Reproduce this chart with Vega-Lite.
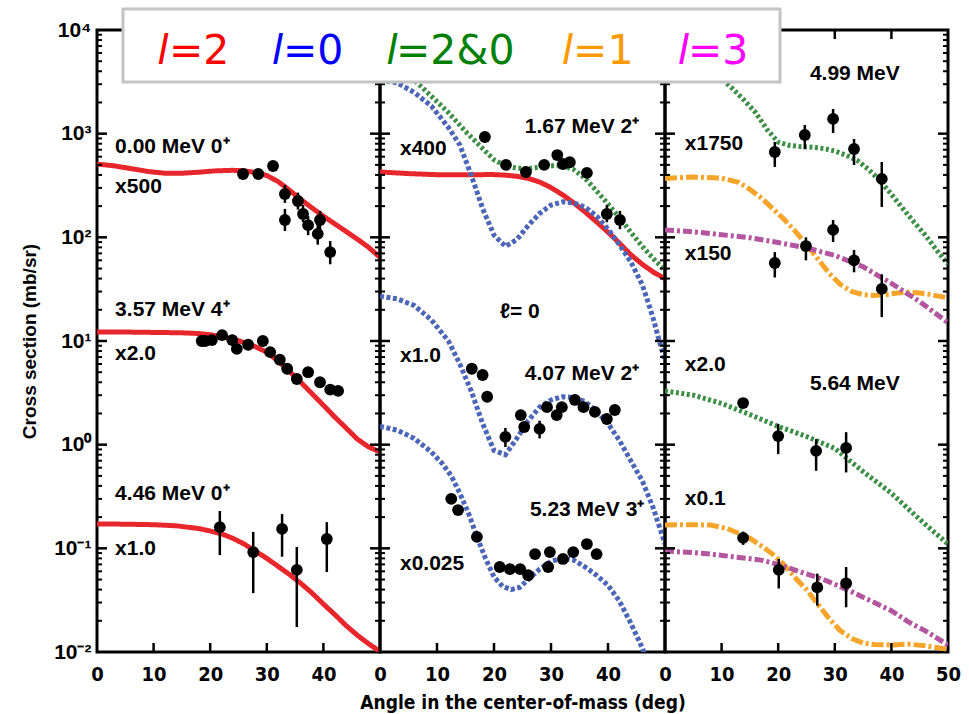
{
  "$schema": "https://vega.github.io/schema/vega-lite/v6.json",
  "background": "white",
  "padding": {"left": 19, "top": 5, "right": 5, "bottom": 0},
  "spacing": 0,
  "bounds": "flush",
  "config": {
    "view": {"stroke": "black", "strokeWidth": 3},
    "axis": {"domain": false, "grid": false, "ticks": false, "labelColor": "black", "titleColor": "black", "labelOverlap": false, "labelFlush": false},
    "concat": {"spacing": 0}
  },
  "datasets": {
    "ymaj": [{"v":0.1},{"v":1},{"v":10},{"v":100},{"v":1000}],
    "ymin": [{"v":0.02},{"v":0.03},{"v":0.04},{"v":0.05},{"v":0.06},{"v":0.07},{"v":0.08},{"v":0.09},{"v":0.2},{"v":0.3},{"v":0.4},{"v":0.5},{"v":0.6},{"v":0.7},{"v":0.8},{"v":0.9},{"v":2},{"v":3},{"v":4},{"v":5},{"v":6},{"v":7},{"v":8},{"v":9},{"v":20},{"v":30},{"v":40},{"v":50},{"v":60},{"v":70},{"v":80},{"v":90},{"v":200},{"v":300},{"v":400},{"v":500},{"v":600},{"v":700},{"v":800},{"v":900},{"v":2000},{"v":3000},{"v":4000},{"v":5000},{"v":6000},{"v":7000},{"v":8000},{"v":9000}],
    "xt": [{"v":10},{"v":20},{"v":30},{"v":40}],
    "lgbox": [{"x1": -95.76, "x2": 20.32, "y1": 15947, "y2": 3151}],
    "lg": [
      {"model":"l=2","lx":-88.69,"tx":-87.63,"y":4699,"label":"=2"},
      {"model":"l=0","lx":-68.46,"tx":-67.49,"y":4699,"label":"=0"},
      {"model":"l=2&0","lx":-48.23,"tx":-47.53,"y":4699,"label":"=2&0"},
      {"model":"l=1","lx":-17.23,"tx":-16.25,"y":4699,"label":"=1"},
      {"model":"l=3","lx":3.27,"tx":4.06,"y":4699,"label":"=3"}
    ],
    "p1c": [
      {"set":"a","model":"l=2","angle":0,"value":509},{"set":"a","model":"l=2","angle":3,"value":490},{"set":"a","model":"l=2","angle":6,"value":460},{"set":"a","model":"l=2","angle":9,"value":432},{"set":"a","model":"l=2","angle":12,"value":415},{"set":"a","model":"l=2","angle":15,"value":415},{"set":"a","model":"l=2","angle":18,"value":425},{"set":"a","model":"l=2","angle":21,"value":438},{"set":"a","model":"l=2","angle":24,"value":443},{"set":"a","model":"l=2","angle":26,"value":438},{"set":"a","model":"l=2","angle":28,"value":422},{"set":"a","model":"l=2","angle":30,"value":395},{"set":"a","model":"l=2","angle":32,"value":345},{"set":"a","model":"l=2","angle":34,"value":285},{"set":"a","model":"l=2","angle":36,"value":232},{"set":"a","model":"l=2","angle":38,"value":192},{"set":"a","model":"l=2","angle":40,"value":160},{"set":"a","model":"l=2","angle":42,"value":135},{"set":"a","model":"l=2","angle":44,"value":114},{"set":"a","model":"l=2","angle":46,"value":96},{"set":"a","model":"l=2","angle":48,"value":80},{"set":"a","model":"l=2","angle":50,"value":64},
      {"set":"b","model":"l=2","angle":0,"value":12.2},{"set":"b","model":"l=2","angle":5,"value":12.2},{"set":"b","model":"l=2","angle":10,"value":12.1},{"set":"b","model":"l=2","angle":15,"value":12.0},{"set":"b","model":"l=2","angle":18,"value":11.8},{"set":"b","model":"l=2","angle":20,"value":11.5},{"set":"b","model":"l=2","angle":22,"value":11.0},{"set":"b","model":"l=2","angle":24,"value":10.4},{"set":"b","model":"l=2","angle":26,"value":9.7},{"set":"b","model":"l=2","angle":28,"value":8.8},{"set":"b","model":"l=2","angle":30,"value":7.8},{"set":"b","model":"l=2","angle":32,"value":6.4},{"set":"b","model":"l=2","angle":34,"value":5.1},{"set":"b","model":"l=2","angle":36,"value":4.0},{"set":"b","model":"l=2","angle":38,"value":3.1},{"set":"b","model":"l=2","angle":40,"value":2.4},{"set":"b","model":"l=2","angle":42,"value":1.85},{"set":"b","model":"l=2","angle":44,"value":1.45},{"set":"b","model":"l=2","angle":46,"value":1.13},{"set":"b","model":"l=2","angle":48,"value":0.95},{"set":"b","model":"l=2","angle":50,"value":0.85},
      {"set":"c","model":"l=2","angle":0,"value":0.172},{"set":"c","model":"l=2","angle":5,"value":0.171},{"set":"c","model":"l=2","angle":10,"value":0.169},{"set":"c","model":"l=2","angle":14,"value":0.165},{"set":"c","model":"l=2","angle":18,"value":0.155},{"set":"c","model":"l=2","angle":20,"value":0.147},{"set":"c","model":"l=2","angle":22,"value":0.138},{"set":"c","model":"l=2","angle":24,"value":0.125},{"set":"c","model":"l=2","angle":26,"value":0.11},{"set":"c","model":"l=2","angle":28,"value":0.094},{"set":"c","model":"l=2","angle":30,"value":0.08},{"set":"c","model":"l=2","angle":32,"value":0.067},{"set":"c","model":"l=2","angle":34,"value":0.056},{"set":"c","model":"l=2","angle":36,"value":0.046},{"set":"c","model":"l=2","angle":38,"value":0.037},{"set":"c","model":"l=2","angle":40,"value":0.029},{"set":"c","model":"l=2","angle":42,"value":0.023},{"set":"c","model":"l=2","angle":44,"value":0.018},{"set":"c","model":"l=2","angle":46,"value":0.0145},{"set":"c","model":"l=2","angle":48,"value":0.012},{"set":"c","model":"l=2","angle":50,"value":0.0101}
    ],
    "p1p": [
      {"angle":25.8,"value":408},{"angle":28.5,"value":408},{"angle":31.1,"value":488},{"angle":33.2,"value":262,"lo":215,"hi":320},{"angle":33.2,"value":147,"lo":115,"hi":188},{"angle":35.5,"value":224,"lo":185,"hi":270},{"angle":36.4,"value":168,"lo":140,"hi":205},{"angle":37.3,"value":131,"lo":105,"hi":160},{"angle":39.4,"value":147,"lo":118,"hi":180},{"angle":39.0,"value":108,"lo":85,"hi":135},{"angle":41.2,"value":72,"lo":55,"hi":92},
      {"angle":18.5,"value":10.0},{"angle":19.1,"value":10.0},{"angle":20.3,"value":10.2},{"angle":22.1,"value":11.4},{"angle":23.9,"value":10.2},{"angle":24.7,"value":8.4},{"angle":26.7,"value":9.2},{"angle":29.3,"value":10.0},{"angle":30.6,"value":7.8},{"angle":32.3,"value":6.6},{"angle":33.6,"value":5.4},{"angle":35.3,"value":4.3},{"angle":37.3,"value":5.0},{"angle":39.4,"value":4.0},{"angle":41.2,"value":3.4},{"angle":42.6,"value":3.3},
      {"angle":21.7,"value":0.16,"lo":0.086,"hi":0.229},{"angle":27.6,"value":0.092,"lo":0.037,"hi":0.144},{"angle":32.7,"value":0.154,"lo":0.083,"hi":0.214},{"angle":35.3,"value":0.062,"lo":0.0174,"hi":0.103},{"angle":40.6,"value":0.123,"lo":0.059,"hi":0.179}
    ],
    "p1t": [
      {"angle":3.2,"value":743,"text":"0.00 MeV 0⁺"},{"angle":3.2,"value":306,"text":"x500"},{"angle":3.2,"value":19.9,"text":"3.57 MeV 4⁺"},{"angle":3.2,"value":7.5,"text":"x2.0"},{"angle":3.2,"value":0.334,"text":"4.46 MeV 0⁺"},{"angle":3.2,"value":0.099,"text":"x1.0"}
    ],
    "p2c": [
      {"set":"a","model":"l=2","angle":0,"value":427},{"set":"a","model":"l=2","angle":5,"value":412},{"set":"a","model":"l=2","angle":10,"value":402},{"set":"a","model":"l=2","angle":15,"value":402},{"set":"a","model":"l=2","angle":20,"value":403},{"set":"a","model":"l=2","angle":22,"value":398},{"set":"a","model":"l=2","angle":24,"value":388},{"set":"a","model":"l=2","angle":26,"value":370},{"set":"a","model":"l=2","angle":28,"value":342},{"set":"a","model":"l=2","angle":30,"value":302},{"set":"a","model":"l=2","angle":32,"value":258},{"set":"a","model":"l=2","angle":34,"value":215},{"set":"a","model":"l=2","angle":36,"value":175},{"set":"a","model":"l=2","angle":38,"value":141},{"set":"a","model":"l=2","angle":40,"value":112},{"set":"a","model":"l=2","angle":42,"value":88},{"set":"a","model":"l=2","angle":44,"value":68},{"set":"a","model":"l=2","angle":46,"value":55},{"set":"a","model":"l=2","angle":48,"value":46},{"set":"a","model":"l=2","angle":50,"value":40},
      {"set":"a","model":"l=0","angle":0,"value":3300},{"set":"a","model":"l=0","angle":3,"value":3100},{"set":"a","model":"l=0","angle":6,"value":2500},{"set":"a","model":"l=0","angle":9,"value":1850},{"set":"a","model":"l=0","angle":12,"value":1150},{"set":"a","model":"l=0","angle":14,"value":780},{"set":"a","model":"l=0","angle":16,"value":400},{"set":"a","model":"l=0","angle":18,"value":190},{"set":"a","model":"l=0","angle":20,"value":105},{"set":"a","model":"l=0","angle":22,"value":82},{"set":"a","model":"l=0","angle":24,"value":95},{"set":"a","model":"l=0","angle":26,"value":130},{"set":"a","model":"l=0","angle":28,"value":170},{"set":"a","model":"l=0","angle":30,"value":205},{"set":"a","model":"l=0","angle":32,"value":220},{"set":"a","model":"l=0","angle":34,"value":215},{"set":"a","model":"l=0","angle":36,"value":195},{"set":"a","model":"l=0","angle":38,"value":160},{"set":"a","model":"l=0","angle":40,"value":120},{"set":"a","model":"l=0","angle":42,"value":85},{"set":"a","model":"l=0","angle":44,"value":58},{"set":"a","model":"l=0","angle":46,"value":35},{"set":"a","model":"l=0","angle":47,"value":24},{"set":"a","model":"l=0","angle":48,"value":16},{"set":"a","model":"l=0","angle":49,"value":10},{"set":"a","model":"l=0","angle":50,"value":6.5},
      {"set":"a","model":"l=2&0","angle":0,"value":4500},{"set":"a","model":"l=2&0","angle":3,"value":4000},{"set":"a","model":"l=2&0","angle":6,"value":3300},{"set":"a","model":"l=2&0","angle":9,"value":2300},{"set":"a","model":"l=2&0","angle":12,"value":1600},{"set":"a","model":"l=2&0","angle":15,"value":1050},{"set":"a","model":"l=2&0","angle":18,"value":720},{"set":"a","model":"l=2&0","angle":20,"value":560},{"set":"a","model":"l=2&0","angle":22,"value":490},{"set":"a","model":"l=2&0","angle":24,"value":465},{"set":"a","model":"l=2&0","angle":26,"value":460},{"set":"a","model":"l=2&0","angle":28,"value":475},{"set":"a","model":"l=2&0","angle":30,"value":490},{"set":"a","model":"l=2&0","angle":32,"value":490},{"set":"a","model":"l=2&0","angle":34,"value":450},{"set":"a","model":"l=2&0","angle":36,"value":370},{"set":"a","model":"l=2&0","angle":38,"value":280},{"set":"a","model":"l=2&0","angle":40,"value":210},{"set":"a","model":"l=2&0","angle":42,"value":155},{"set":"a","model":"l=2&0","angle":44,"value":112},{"set":"a","model":"l=2&0","angle":46,"value":82},{"set":"a","model":"l=2&0","angle":48,"value":62},{"set":"a","model":"l=2&0","angle":50,"value":48},
      {"set":"b","model":"l=0","angle":0,"value":27},{"set":"b","model":"l=0","angle":3,"value":25.5},{"set":"b","model":"l=0","angle":6,"value":22},{"set":"b","model":"l=0","angle":9,"value":16},{"set":"b","model":"l=0","angle":12,"value":10},{"set":"b","model":"l=0","angle":14,"value":6},{"set":"b","model":"l=0","angle":16,"value":3.3},{"set":"b","model":"l=0","angle":18,"value":1.6},{"set":"b","model":"l=0","angle":20,"value":0.88},{"set":"b","model":"l=0","angle":22,"value":0.8},{"set":"b","model":"l=0","angle":24,"value":1.15},{"set":"b","model":"l=0","angle":26,"value":1.7},{"set":"b","model":"l=0","angle":28,"value":2.3},{"set":"b","model":"l=0","angle":30,"value":2.7},{"set":"b","model":"l=0","angle":32,"value":2.9},{"set":"b","model":"l=0","angle":34,"value":2.85},{"set":"b","model":"l=0","angle":36,"value":2.6},{"set":"b","model":"l=0","angle":38,"value":2.1},{"set":"b","model":"l=0","angle":40,"value":1.6},{"set":"b","model":"l=0","angle":42,"value":1.1},{"set":"b","model":"l=0","angle":44,"value":0.7},{"set":"b","model":"l=0","angle":46,"value":0.45},{"set":"b","model":"l=0","angle":48,"value":0.24},{"set":"b","model":"l=0","angle":50,"value":0.11},
      {"set":"c","model":"l=0","angle":0,"value":1.5},{"set":"c","model":"l=0","angle":3,"value":1.38},{"set":"c","model":"l=0","angle":6,"value":1.15},{"set":"c","model":"l=0","angle":9,"value":0.85},{"set":"c","model":"l=0","angle":11,"value":0.65},{"set":"c","model":"l=0","angle":12.5,"value":0.5},{"set":"c","model":"l=0","angle":14,"value":0.34},{"set":"c","model":"l=0","angle":15.5,"value":0.22},{"set":"c","model":"l=0","angle":17,"value":0.13},{"set":"c","model":"l=0","angle":18.5,"value":0.08},{"set":"c","model":"l=0","angle":20,"value":0.053},{"set":"c","model":"l=0","angle":21.5,"value":0.043},{"set":"c","model":"l=0","angle":23,"value":0.04},{"set":"c","model":"l=0","angle":24.5,"value":0.042},{"set":"c","model":"l=0","angle":26,"value":0.05},{"set":"c","model":"l=0","angle":28,"value":0.063},{"set":"c","model":"l=0","angle":30,"value":0.075},{"set":"c","model":"l=0","angle":32,"value":0.08},{"set":"c","model":"l=0","angle":34,"value":0.077},{"set":"c","model":"l=0","angle":36,"value":0.066},{"set":"c","model":"l=0","angle":38,"value":0.055},{"set":"c","model":"l=0","angle":40,"value":0.044},{"set":"c","model":"l=0","angle":42,"value":0.031},{"set":"c","model":"l=0","angle":44,"value":0.019},{"set":"c","model":"l=0","angle":46,"value":0.011},{"set":"c","model":"l=0","angle":48,"value":0.0055}
    ],
    "p2p": [
      {"angle":18.4,"value":929},{"angle":22.1,"value":500},{"angle":25.6,"value":427},{"angle":28.8,"value":500},{"angle":31.1,"value":622},{"angle":32.1,"value":510},{"angle":33.3,"value":530},{"angle":36.3,"value":418},{"angle":39.8,"value":168,"lo":140,"hi":205},{"angle":42.1,"value":147,"lo":120,"hi":180},
      {"angle":16.1,"value":5.4},{"angle":18.0,"value":4.7},{"angle":18.8,"value":2.9},{"angle":22.0,"value":1.19,"lo":0.95,"hi":1.45},{"angle":24.7,"value":1.93},{"angle":25.3,"value":1.48},{"angle":28.0,"value":1.42,"lo":1.15,"hi":1.7},{"angle":29.3,"value":2.3},{"angle":31.0,"value":1.93},{"angle":31.9,"value":2.3},{"angle":34.2,"value":2.7},{"angle":35.7,"value":2.3},{"angle":37.7,"value":2.07},{"angle":39.8,"value":1.77},{"angle":41.2,"value":2.16},
      {"angle":12.5,"value":0.3},{"angle":13.7,"value":0.234},{"angle":17.0,"value":0.129},{"angle":21.0,"value":0.066},{"angle":22.8,"value":0.063},{"angle":24.6,"value":0.063},{"angle":26.0,"value":0.055},{"angle":27.2,"value":0.088},{"angle":29.5,"value":0.066},{"angle":29.8,"value":0.092},{"angle":32.1,"value":0.079},{"angle":33.9,"value":0.092},{"angle":36.3,"value":0.11},{"angle":38.0,"value":0.088}
    ],
    "p2t": [
      {"angle":25.4,"value":1160,"text":"1.67 MeV 2⁺"},{"angle":3.5,"value":711,"text":"x400"},{"angle":21,"value":19,"text":"ℓ= 0"},{"angle":3.5,"value":7.2,"text":"x1.0"},{"angle":25.4,"value":4.8,"text":"4.07 MeV 2⁺"},{"angle":26.3,"value":0.234,"text":"5.23 MeV 3⁺"},{"angle":3.5,"value":0.071,"text":"x0.025"}
    ],
    "p3c": [
      {"set":"a","model":"l=2&0","angle":0,"value":6500},{"set":"a","model":"l=2&0","angle":4,"value":5500},{"set":"a","model":"l=2&0","angle":8,"value":4200},{"set":"a","model":"l=2&0","angle":10,"value":3400},{"set":"a","model":"l=2&0","angle":12,"value":2700},{"set":"a","model":"l=2&0","angle":14,"value":2100},{"set":"a","model":"l=2&0","angle":16,"value":1600},{"set":"a","model":"l=2&0","angle":18,"value":1100},{"set":"a","model":"l=2&0","angle":20,"value":830},{"set":"a","model":"l=2&0","angle":22,"value":770},{"set":"a","model":"l=2&0","angle":24,"value":750},{"set":"a","model":"l=2&0","angle":26,"value":740},{"set":"a","model":"l=2&0","angle":28,"value":720},{"set":"a","model":"l=2&0","angle":30,"value":680},{"set":"a","model":"l=2&0","angle":32,"value":620},{"set":"a","model":"l=2&0","angle":34,"value":550},{"set":"a","model":"l=2&0","angle":36,"value":450},{"set":"a","model":"l=2&0","angle":38,"value":350},{"set":"a","model":"l=2&0","angle":40,"value":260},{"set":"a","model":"l=2&0","angle":42,"value":190},{"set":"a","model":"l=2&0","angle":44,"value":140},{"set":"a","model":"l=2&0","angle":46,"value":105},{"set":"a","model":"l=2&0","angle":48,"value":75},{"set":"a","model":"l=2&0","angle":50,"value":55},
      {"set":"b","model":"l=1","angle":0,"value":370},{"set":"b","model":"l=1","angle":5,"value":382},{"set":"b","model":"l=1","angle":10,"value":372},{"set":"b","model":"l=1","angle":13,"value":340},{"set":"b","model":"l=1","angle":15,"value":290},{"set":"b","model":"l=1","angle":17,"value":240},{"set":"b","model":"l=1","angle":19,"value":190},{"set":"b","model":"l=1","angle":21,"value":150},{"set":"b","model":"l=1","angle":23,"value":115},{"set":"b","model":"l=1","angle":25,"value":85},{"set":"b","model":"l=1","angle":27,"value":62},{"set":"b","model":"l=1","angle":29,"value":45},{"set":"b","model":"l=1","angle":31,"value":35},{"set":"b","model":"l=1","angle":33,"value":30},{"set":"b","model":"l=1","angle":35,"value":28},{"set":"b","model":"l=1","angle":37,"value":27.5},{"set":"b","model":"l=1","angle":39,"value":28},{"set":"b","model":"l=1","angle":41,"value":29},{"set":"b","model":"l=1","angle":43,"value":29.5},{"set":"b","model":"l=1","angle":45,"value":29},{"set":"b","model":"l=1","angle":47,"value":28},{"set":"b","model":"l=1","angle":50,"value":26},
      {"set":"b","model":"l=3","angle":0,"value":118},{"set":"b","model":"l=3","angle":5,"value":113},{"set":"b","model":"l=3","angle":10,"value":106},{"set":"b","model":"l=3","angle":15,"value":99},{"set":"b","model":"l=3","angle":20,"value":89},{"set":"b","model":"l=3","angle":25,"value":79},{"set":"b","model":"l=3","angle":30,"value":67},{"set":"b","model":"l=3","angle":35,"value":52},{"set":"b","model":"l=3","angle":40,"value":36},{"set":"b","model":"l=3","angle":45,"value":24},{"set":"b","model":"l=3","angle":50,"value":15},
      {"set":"c","model":"l=2&0","angle":0,"value":3.3},{"set":"c","model":"l=2&0","angle":5,"value":3.0},{"set":"c","model":"l=2&0","angle":10,"value":2.5},{"set":"c","model":"l=2&0","angle":15,"value":1.95},{"set":"c","model":"l=2&0","angle":20,"value":1.5},{"set":"c","model":"l=2&0","angle":25,"value":1.2},{"set":"c","model":"l=2&0","angle":30,"value":0.92},{"set":"c","model":"l=2&0","angle":35,"value":0.55},{"set":"c","model":"l=2&0","angle":40,"value":0.34},{"set":"c","model":"l=2&0","angle":45,"value":0.19},{"set":"c","model":"l=2&0","angle":50,"value":0.11},
      {"set":"d","model":"l=1","angle":0,"value":0.168},{"set":"d","model":"l=1","angle":5,"value":0.169},{"set":"d","model":"l=1","angle":8,"value":0.168},{"set":"d","model":"l=1","angle":11,"value":0.155},{"set":"d","model":"l=1","angle":13,"value":0.14},{"set":"d","model":"l=1","angle":15,"value":0.125},{"set":"d","model":"l=1","angle":17,"value":0.106},{"set":"d","model":"l=1","angle":19,"value":0.088},{"set":"d","model":"l=1","angle":21,"value":0.07},{"set":"d","model":"l=1","angle":23,"value":0.052},{"set":"d","model":"l=1","angle":25,"value":0.04},{"set":"d","model":"l=1","angle":27,"value":0.029},{"set":"d","model":"l=1","angle":29,"value":0.021},{"set":"d","model":"l=1","angle":31,"value":0.016},{"set":"d","model":"l=1","angle":33,"value":0.0135},{"set":"d","model":"l=1","angle":35,"value":0.0122},{"set":"d","model":"l=1","angle":37,"value":0.0118},{"set":"d","model":"l=1","angle":40,"value":0.0117},{"set":"d","model":"l=1","angle":43,"value":0.0119},{"set":"d","model":"l=1","angle":46,"value":0.0115},{"set":"d","model":"l=1","angle":50,"value":0.0106},
      {"set":"d","model":"l=3","angle":0,"value":0.094},{"set":"d","model":"l=3","angle":5,"value":0.091},{"set":"d","model":"l=3","angle":8,"value":0.088},{"set":"d","model":"l=3","angle":12,"value":0.083},{"set":"d","model":"l=3","angle":17,"value":0.077},{"set":"d","model":"l=3","angle":20,"value":0.07},{"set":"d","model":"l=3","angle":24,"value":0.059},{"set":"d","model":"l=3","angle":28,"value":0.05},{"set":"d","model":"l=3","angle":30,"value":0.045},{"set":"d","model":"l=3","angle":33,"value":0.038},{"set":"d","model":"l=3","angle":37,"value":0.03},{"set":"d","model":"l=3","angle":40,"value":0.025},{"set":"d","model":"l=3","angle":43,"value":0.0195},{"set":"d","model":"l=3","angle":46,"value":0.016},{"set":"d","model":"l=3","angle":50,"value":0.0117}
    ],
    "p3p": [
      {"angle":19.4,"value":665,"lo":478,"hi":832},{"angle":24.7,"value":971,"lo":711,"hi":1213},{"angle":29.7,"value":1387,"lo":1014,"hi":1730},{"angle":33.4,"value":711,"lo":499,"hi":889},{"angle":38.3,"value":366,"lo":196,"hi":533},
      {"angle":19.4,"value":56.5,"lo":41,"hi":72},{"angle":24.9,"value":82.4,"lo":60,"hi":100},{"angle":29.7,"value":118,"lo":90,"hi":147},{"angle":33.4,"value":60,"lo":46,"hi":75.5},{"angle":38.3,"value":31.8,"lo":17,"hi":44},
      {"angle":13.8,"value":2.52},{"angle":20.0,"value":1.21,"lo":0.81,"hi":1.58},{"angle":26.7,"value":0.87,"lo":0.56,"hi":1.13},{"angle":32.0,"value":0.93,"lo":0.54,"hi":1.32},
      {"angle":13.8,"value":0.126,"lo":0.108,"hi":0.145},{"angle":20.1,"value":0.062,"lo":0.041,"hi":0.079},{"angle":26.9,"value":0.042,"lo":0.028,"hi":0.057},{"angle":32.0,"value":0.046,"lo":0.027,"hi":0.066}
    ],
    "p3t": [
      {"angle":25.6,"value":3770,"text":"4.99 MeV"},{"angle":3.5,"value":795,"text":"x1750"},{"angle":3.5,"value":69,"text":"x150"},{"angle":3.5,"value":5.9,"text":"x2.0"},{"angle":25.6,"value":3.85,"text":"5.64 MeV"},{"angle":3.5,"value":0.3,"text":"x0.1"}
    ]
  },
  "hconcat": [
    {
      "width": 283, "height": 622,
      "layer": [
        {"data": {"name": "p1c"}, "mark": {"type": "line", "clip": true, "strokeCap": "butt"},
         "encoding": {
           "x": {"field": "angle", "type": "quantitative", "scale": {"domain": [0, 50], "nice": false},
                 "axis": {"orient": "bottom", "values": [0, 10, 20, 30, 40], "labelPadding": 12, "labelFont": "Liberation Sans Narrow, DejaVu Sans Condensed, sans-serif", "labelFontWeight": "bold", "labelFontSize": 20, "title": null}},
           "y": {"field": "value", "type": "quantitative", "scale": {"type": "log", "domain": [0.01, 10000], "nice": false},
                 "axis": {"orient": "left", "values": [0.01, 0.1, 1, 10, 100, 1000, 10000],
                          "labelExpr": "datum.value == 10000 ? '10⁴' : datum.value == 1000 ? '10³' : datum.value == 100 ? '10²' : datum.value == 10 ? '10¹' : datum.value == 1 ? '10⁰' : datum.value == 0.1 ? '10⁻¹' : '10⁻²'",
                          "labelPadding": 6, "labelFont": "Liberation Sans", "labelFontWeight": "bold", "labelFontSize": 21,
                          "title": "Cross section (mb/sr)", "titleFont": "Liberation Sans", "titleFontWeight": "bold", "titleFontSize": 19, "titlePadding": 14}},
           "stroke": {"field": "model", "type": "nominal", "legend": null,
                      "scale": {"domain": ["l=2", "l=0", "l=2&0", "l=1", "l=3"], "range": ["#e8272d", "#4b66b8", "#3c8f45", "#f6a52a", "#b3569f"]}},
           "strokeDash": {"field": "model", "type": "nominal", "legend": null,
                          "scale": {"domain": ["l=2", "l=0", "l=2&0", "l=1", "l=3"], "range": [[1, 0], [4, 2.5], [3, 2.5], [12, 3, 3, 3], [9, 3, 3, 3]]}},
           "strokeWidth": {"field": "model", "type": "nominal", "legend": null,
                           "scale": {"domain": ["l=2", "l=0", "l=2&0", "l=1", "l=3"], "range": [5, 5, 4.5, 6, 4.5]}},
           "detail": {"field": "set"}
         }},
        {"data": {"name": "ymaj"}, "mark": {"type": "rule", "color": "black", "strokeWidth": 2.5, "x2Offset": 10},
         "encoding": {"x": {"datum": 0, "type": "quantitative", "axis": null}, "x2": {"datum": 0}, "y": {"field": "v", "type": "quantitative", "axis": null}}},
        {"data": {"name": "ymin"}, "mark": {"type": "rule", "color": "black", "strokeWidth": 2, "x2Offset": 5},
         "encoding": {"x": {"datum": 0, "type": "quantitative", "axis": null}, "x2": {"datum": 0}, "y": {"field": "v", "type": "quantitative", "axis": null}}},
        {"data": {"name": "ymaj"}, "mark": {"type": "rule", "color": "black", "strokeWidth": 2.5, "x2Offset": -10},
         "encoding": {"x": {"datum": 50, "type": "quantitative", "axis": null}, "x2": {"datum": 50}, "y": {"field": "v", "type": "quantitative", "axis": null}}},
        {"data": {"name": "ymin"}, "mark": {"type": "rule", "color": "black", "strokeWidth": 2, "x2Offset": -5},
         "encoding": {"x": {"datum": 50, "type": "quantitative", "axis": null}, "x2": {"datum": 50}, "y": {"field": "v", "type": "quantitative", "axis": null}}},
        {"data": {"name": "xt"}, "mark": {"type": "rule", "color": "black", "strokeWidth": 2.5, "y2Offset": -9},
         "encoding": {"x": {"field": "v", "type": "quantitative", "axis": null}, "y": {"datum": 0.01, "type": "quantitative", "axis": null}, "y2": {"datum": 0.01}}},
        {"data": {"name": "xt"}, "mark": {"type": "rule", "color": "black", "strokeWidth": 2.5, "y2Offset": 9},
         "encoding": {"x": {"field": "v", "type": "quantitative", "axis": null}, "y": {"datum": 10000, "type": "quantitative", "axis": null}, "y2": {"datum": 10000}}},
        {"data": {"name": "p1p"}, "mark": {"type": "rule", "color": "black", "strokeWidth": 2.5},
         "encoding": {"x": {"field": "angle", "type": "quantitative", "axis": null}, "y": {"field": "lo", "type": "quantitative", "axis": null}, "y2": {"field": "hi"}}},
        {"data": {"name": "p1p"}, "mark": {"type": "point", "filled": true, "size": 140, "color": "black", "opacity": 1},
         "encoding": {"x": {"field": "angle", "type": "quantitative", "axis": null}, "y": {"field": "value", "type": "quantitative", "axis": null}}},
        {"data": {"name": "p1t"}, "mark": {"type": "text", "align": "left", "baseline": "middle", "font": "Liberation Sans", "fontWeight": "bold", "fontSize": 21, "color": "black"},
         "encoding": {"x": {"field": "angle", "type": "quantitative", "axis": null}, "y": {"field": "value", "type": "quantitative", "axis": null}, "text": {"field": "text"}}}
      ],
      "resolve": {"axis": {"x": "independent", "y": "independent"}}
    },
    {
      "width": 285, "height": 622,
      "layer": [
        {"data": {"name": "p2c"}, "mark": {"type": "line", "clip": true, "strokeCap": "butt"},
         "encoding": {
           "x": {"field": "angle", "type": "quantitative", "scale": {"domain": [0, 50], "nice": false},
                 "axis": {"orient": "bottom", "values": [0, 10, 20, 30, 40], "labelPadding": 12, "labelFont": "Liberation Sans Narrow, DejaVu Sans Condensed, sans-serif", "labelFontWeight": "bold", "labelFontSize": 20,
                          "title": "Angle in the center-of-mass (deg)", "titleFont": "Liberation Sans Narrow, DejaVu Sans Condensed, sans-serif", "titleFontWeight": "bold", "titleFontSize": 19, "titlePadding": 9}},
           "y": {"field": "value", "type": "quantitative", "scale": {"type": "log", "domain": [0.01, 10000], "nice": false}, "axis": null},
           "stroke": {"field": "model", "type": "nominal", "legend": null,
                      "scale": {"domain": ["l=2", "l=0", "l=2&0", "l=1", "l=3"], "range": ["#e8272d", "#4b66b8", "#3c8f45", "#f6a52a", "#b3569f"]}},
           "strokeDash": {"field": "model", "type": "nominal", "legend": null,
                          "scale": {"domain": ["l=2", "l=0", "l=2&0", "l=1", "l=3"], "range": [[1, 0], [4, 2.5], [3, 2.5], [12, 3, 3, 3], [9, 3, 3, 3]]}},
           "strokeWidth": {"field": "model", "type": "nominal", "legend": null,
                           "scale": {"domain": ["l=2", "l=0", "l=2&0", "l=1", "l=3"], "range": [5, 5, 4.5, 6, 4.5]}},
           "detail": {"field": "set"}
         }},
        {"data": {"name": "ymaj"}, "mark": {"type": "rule", "color": "black", "strokeWidth": 2.5, "x2Offset": 10},
         "encoding": {"x": {"datum": 0, "type": "quantitative", "axis": null}, "x2": {"datum": 0}, "y": {"field": "v", "type": "quantitative", "axis": null}}},
        {"data": {"name": "ymin"}, "mark": {"type": "rule", "color": "black", "strokeWidth": 2, "x2Offset": 5},
         "encoding": {"x": {"datum": 0, "type": "quantitative", "axis": null}, "x2": {"datum": 0}, "y": {"field": "v", "type": "quantitative", "axis": null}}},
        {"data": {"name": "ymaj"}, "mark": {"type": "rule", "color": "black", "strokeWidth": 2.5, "x2Offset": -10},
         "encoding": {"x": {"datum": 50, "type": "quantitative", "axis": null}, "x2": {"datum": 50}, "y": {"field": "v", "type": "quantitative", "axis": null}}},
        {"data": {"name": "ymin"}, "mark": {"type": "rule", "color": "black", "strokeWidth": 2, "x2Offset": -5},
         "encoding": {"x": {"datum": 50, "type": "quantitative", "axis": null}, "x2": {"datum": 50}, "y": {"field": "v", "type": "quantitative", "axis": null}}},
        {"data": {"name": "xt"}, "mark": {"type": "rule", "color": "black", "strokeWidth": 2.5, "y2Offset": -9},
         "encoding": {"x": {"field": "v", "type": "quantitative", "axis": null}, "y": {"datum": 0.01, "type": "quantitative", "axis": null}, "y2": {"datum": 0.01}}},
        {"data": {"name": "xt"}, "mark": {"type": "rule", "color": "black", "strokeWidth": 2.5, "y2Offset": 9},
         "encoding": {"x": {"field": "v", "type": "quantitative", "axis": null}, "y": {"datum": 10000, "type": "quantitative", "axis": null}, "y2": {"datum": 10000}}},
        {"data": {"name": "p2p"}, "mark": {"type": "rule", "color": "black", "strokeWidth": 2.5},
         "encoding": {"x": {"field": "angle", "type": "quantitative", "axis": null}, "y": {"field": "lo", "type": "quantitative", "axis": null}, "y2": {"field": "hi"}}},
        {"data": {"name": "p2p"}, "mark": {"type": "point", "filled": true, "size": 140, "color": "black", "opacity": 1},
         "encoding": {"x": {"field": "angle", "type": "quantitative", "axis": null}, "y": {"field": "value", "type": "quantitative", "axis": null}}},
        {"data": {"name": "p2t"}, "mark": {"type": "text", "align": "left", "baseline": "middle", "font": "Liberation Sans", "fontWeight": "bold", "fontSize": 21, "color": "black"},
         "encoding": {"x": {"field": "angle", "type": "quantitative", "axis": null}, "y": {"field": "value", "type": "quantitative", "axis": null}, "text": {"field": "text"}}}
      ],
      "resolve": {"axis": {"x": "independent", "y": "independent"}}
    },
    {
      "width": 283, "height": 622,
      "layer": [
        {"data": {"name": "p3c"}, "mark": {"type": "line", "clip": true, "strokeCap": "butt"},
         "encoding": {
           "x": {"field": "angle", "type": "quantitative", "scale": {"domain": [0, 50], "nice": false},
                 "axis": {"orient": "bottom", "values": [0, 10, 20, 30, 40, 50], "labelPadding": 12, "labelFont": "Liberation Sans Narrow, DejaVu Sans Condensed, sans-serif", "labelFontWeight": "bold", "labelFontSize": 20, "title": null}},
           "y": {"field": "value", "type": "quantitative", "scale": {"type": "log", "domain": [0.01, 10000], "nice": false}, "axis": null},
           "stroke": {"field": "model", "type": "nominal", "legend": null,
                      "scale": {"domain": ["l=2", "l=0", "l=2&0", "l=1", "l=3"], "range": ["#e8272d", "#4b66b8", "#3c8f45", "#f6a52a", "#b3569f"]}},
           "strokeDash": {"field": "model", "type": "nominal", "legend": null,
                          "scale": {"domain": ["l=2", "l=0", "l=2&0", "l=1", "l=3"], "range": [[1, 0], [4, 2.5], [3, 2.5], [12, 3, 3, 3], [9, 3, 3, 3]]}},
           "strokeWidth": {"field": "model", "type": "nominal", "legend": null,
                           "scale": {"domain": ["l=2", "l=0", "l=2&0", "l=1", "l=3"], "range": [5, 5, 4.5, 6, 4.5]}},
           "detail": {"field": "set"}
         }},
        {"data": {"name": "ymaj"}, "mark": {"type": "rule", "color": "black", "strokeWidth": 2.5, "x2Offset": 10},
         "encoding": {"x": {"datum": 0, "type": "quantitative", "axis": null}, "x2": {"datum": 0}, "y": {"field": "v", "type": "quantitative", "axis": null}}},
        {"data": {"name": "ymin"}, "mark": {"type": "rule", "color": "black", "strokeWidth": 2, "x2Offset": 5},
         "encoding": {"x": {"datum": 0, "type": "quantitative", "axis": null}, "x2": {"datum": 0}, "y": {"field": "v", "type": "quantitative", "axis": null}}},
        {"data": {"name": "ymaj"}, "mark": {"type": "rule", "color": "black", "strokeWidth": 2.5, "x2Offset": -10},
         "encoding": {"x": {"datum": 50, "type": "quantitative", "axis": null}, "x2": {"datum": 50}, "y": {"field": "v", "type": "quantitative", "axis": null}}},
        {"data": {"name": "ymin"}, "mark": {"type": "rule", "color": "black", "strokeWidth": 2, "x2Offset": -5},
         "encoding": {"x": {"datum": 50, "type": "quantitative", "axis": null}, "x2": {"datum": 50}, "y": {"field": "v", "type": "quantitative", "axis": null}}},
        {"data": {"name": "xt"}, "mark": {"type": "rule", "color": "black", "strokeWidth": 2.5, "y2Offset": -9},
         "encoding": {"x": {"field": "v", "type": "quantitative", "axis": null}, "y": {"datum": 0.01, "type": "quantitative", "axis": null}, "y2": {"datum": 0.01}}},
        {"data": {"name": "xt"}, "mark": {"type": "rule", "color": "black", "strokeWidth": 2.5, "y2Offset": 9},
         "encoding": {"x": {"field": "v", "type": "quantitative", "axis": null}, "y": {"datum": 10000, "type": "quantitative", "axis": null}, "y2": {"datum": 10000}}},
        {"data": {"name": "p3p"}, "mark": {"type": "rule", "color": "black", "strokeWidth": 2.5},
         "encoding": {"x": {"field": "angle", "type": "quantitative", "axis": null}, "y": {"field": "lo", "type": "quantitative", "axis": null}, "y2": {"field": "hi"}}},
        {"data": {"name": "p3p"}, "mark": {"type": "point", "filled": true, "size": 140, "color": "black", "opacity": 1},
         "encoding": {"x": {"field": "angle", "type": "quantitative", "axis": null}, "y": {"field": "value", "type": "quantitative", "axis": null}}},
        {"data": {"name": "p3t"}, "mark": {"type": "text", "align": "left", "baseline": "middle", "font": "Liberation Sans", "fontWeight": "bold", "fontSize": 21, "color": "black"},
         "encoding": {"x": {"field": "angle", "type": "quantitative", "axis": null}, "y": {"field": "value", "type": "quantitative", "axis": null}, "text": {"field": "text"}}},
        {"data": {"name": "lgbox"}, "mark": {"type": "rect", "fill": "white", "stroke": "#c4c4c4", "strokeWidth": 3},
         "encoding": {"x": {"field": "x1", "type": "quantitative", "axis": null}, "x2": {"field": "x2"}, "y": {"field": "y1", "type": "quantitative", "axis": null}, "y2": {"field": "y2"}}},
        {"data": {"name": "lg"}, "mark": {"type": "text", "align": "center", "baseline": "alphabetic", "font": "DejaVu Sans", "fontStyle": "italic", "fontSize": 41, "text": "l"},
         "encoding": {"x": {"field": "lx", "type": "quantitative", "axis": null}, "y": {"field": "y", "type": "quantitative", "axis": null},
                      "color": {"field": "model", "type": "nominal", "legend": null, "scale": {"domain": ["l=2", "l=0", "l=2&0", "l=1", "l=3"], "range": ["#ff0000", "#0000ff", "#008000", "#ff9900", "#ff00ff"]}}}},
        {"data": {"name": "lg"}, "mark": {"type": "text", "align": "left", "baseline": "alphabetic", "font": "DejaVu Sans", "fontSize": 41},
         "encoding": {"x": {"field": "tx", "type": "quantitative", "axis": null}, "y": {"field": "y", "type": "quantitative", "axis": null}, "text": {"field": "label"},
                      "color": {"field": "model", "type": "nominal", "legend": null, "scale": {"domain": ["l=2", "l=0", "l=2&0", "l=1", "l=3"], "range": ["#ff0000", "#0000ff", "#008000", "#ff9900", "#ff00ff"]}}}}
      ],
      "resolve": {"axis": {"x": "independent", "y": "independent"}}
    }
  ],
  "resolve": {"scale": {"color": "shared", "stroke": "shared", "strokeDash": "shared", "strokeWidth": "shared"}}
}
